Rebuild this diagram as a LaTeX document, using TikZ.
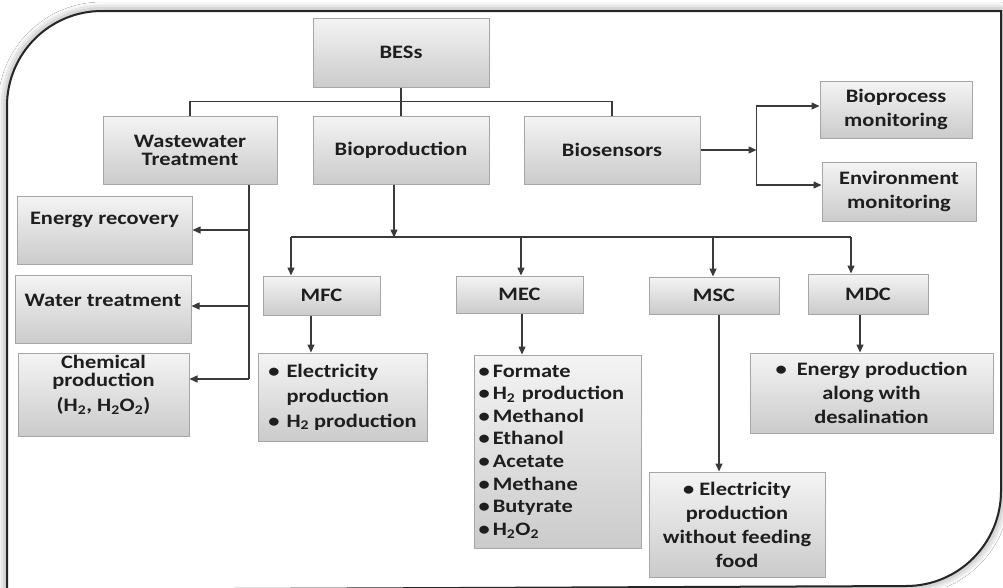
\documentclass[tikz,border=0pt]{standalone}
\usepackage{fontspec}
\setmainfont{Carlito}[FakeStretch=1.18]
\usetikzlibrary{arrows.meta,shadows,shadows.blur}

\definecolor{boxtop}{HTML}{F4F4F4}
\definecolor{boxbot}{HTML}{CBCBCB}
\definecolor{boxline}{HTML}{A6A6A6}
\definecolor{ink}{HTML}{1E1E1E}
\definecolor{wire}{HTML}{3A3A3A}

\tikzset{
  box/.style={draw=boxline, line width=1pt, top color=boxtop, bottom color=boxbot,
    drop shadow={shadow xshift=1.2pt, shadow yshift=-1.2pt, opacity=0.18},
    text=ink, align=center, inner sep=2pt},
  tight/.style={font=\bfseries\fontsize{19}{18}\selectfont},
  loose/.style={font=\bfseries\fontsize{19}{24.5}\selectfont},
  lbl/.style={text=ink, align=center, inner sep=0pt},
  wire/.style={draw=wire, line width=1.4pt},
  arr/.style={-{Triangle[length=8pt,width=7pt]}},
}

\begin{document}
\begin{tikzpicture}[x=1pt,y=-1pt]
\useasboundingbox (0,0) rectangle (1003,587);
\fill[white] (0,0) rectangle (1003,587);

% outer frame with two rounded corners
\draw[line width=2pt, draw=black!85, fill=white,
      blur shadow={shadow xshift=0pt, shadow yshift=0pt, shadow blur radius=9pt, shadow opacity=50}]
  (7,590) -- (7,106) arc[start angle=180, end angle=270, radius=95]
  -- (1001,11) -- (1001,491) arc[start angle=0, end angle=90, radius=95]
  -- cycle;

% top level
\node[box, tight, minimum width=176, minimum height=69] (bes) at (401,52.5) {BESs};
\node[box, tight, minimum width=174, minimum height=68] (ww) at (190,150) {Wastewater\\Treatment};
\node[box, tight, minimum width=176, minimum height=68] (bp) at (401,150) {Bioproduction};
\node[box, tight, minimum width=176, minimum height=68] (bs) at (612,150) {Biosensors};

% biosensor applications
\node[box, loose, minimum width=152, minimum height=57] (bpm) at (896,109.5) {Bioprocess\\monitoring};
\node[box, loose, minimum width=154, minimum height=59] (env) at (899,191.5) {Environment\\monitoring};

% wastewater treatment outputs
\node[box, minimum width=175, minimum height=68] (er) at (104.5,230) {};
\node[lbl, tight] (ertxt) at (104.5,220) {Energy recovery};
\node[box, minimum width=176, minimum height=68] (wt) at (103,309) {};
\node[lbl, tight] (wttxt) at (103,300) {Water treatment};
\node[box, minimum width=171, minimum height=83] (chem) at (103.5,394.5) {};
\node[lbl, tight] (chemtxt) at (103.5,384.5) {Chemical\\production\\[7pt](H\textsubscript{2}, H\textsubscript{2}O\textsubscript{2})};

% cell types
\node[box, tight, minimum width=117, minimum height=39] (mfc) at (321.5,295.5) {MFC};
\node[box, tight, minimum width=127, minimum height=37] (mec) at (519.5,294.5) {MEC};
\node[box, tight, minimum width=130, minimum height=37] (msc) at (714,295.5) {MSC};
\node[box, tight, minimum width=120, minimum height=40] (mdc) at (868,294) {MDC};

% products of each cell
\node[box, minimum width=169, minimum height=88,
      font=\bfseries\fontsize{19}{25}\selectfont] (mfcl) at (342.5,397)
  {\begin{tabular}{@{}l@{\hspace{7pt}}l@{}}
   \textbullet & Electricity\\
               & production\\
   \textbullet & H\textsubscript{2} production
   \end{tabular}};
\node[box, minimum width=167, minimum height=193, text width=158pt, align=left, inner xsep=3.5pt,
      font=\bfseries\fontsize{19}{22.6}\selectfont] (mecl) at (557.5,451.5)
  {\textbullet\,Formate\\
   \textbullet\,H\textsubscript{2} production\\
   \textbullet\,Methanol\\
   \textbullet\,Ethanol\\
   \textbullet\,Acetate\\
   \textbullet\,Methane\\
   \textbullet\,Butyrate\\
   \textbullet\,H\textsubscript{2}O\textsubscript{2}};
\node[box, minimum width=176, minimum height=105,
      font=\bfseries\fontsize{19}{24}\selectfont] (mscl) at (737,524.5)
  {\textbullet\ Electricity\\production\\without feeding\\food};
\node[box, minimum width=243, minimum height=80,
      font=\bfseries\fontsize{19}{24}\selectfont] (mdcl) at (871.5,393)
  {\textbullet\ \ Energy production\\along with\\desalination};

% BESs branches
\draw[wire] (bes.south) -- ++(0,14) coordinate (hub);
\draw[wire] (ww.north) |- (hub) -| (bs.north);
\draw[wire] (hub) -- (bp.north);

% biosensors fork
\draw[wire, arr] (bs.east) -- ++(56,0) coordinate (fork);
\draw[wire, arr] (fork) |- ([yshift=3.5pt]bpm.west);
\draw[wire, arr] (fork) |- ([yshift=6.5pt]env.west);

% wastewater trunk
\path ([xshift=59pt]ww.south) coordinate (trunk);
\path ([yshift=3pt]wt.east) coordinate (wtin);
\path ([yshift=15.5pt]chem.east) coordinate (chemin);
\draw[wire] (trunk) -- (trunk |- chemin);
\draw[wire, arr] (trunk |- er.east) -- (er.east);
\draw[wire, arr] (trunk |- wtin) -- (wtin);
\draw[wire, arr] (trunk |- chemin) -- (chemin);

% bioproduction bus
\draw[wire, arr] ([xshift=-7pt]bp.south) -- ++(0,53) coordinate (split);
\coordinate (b1) at (291,237);
\coordinate (b2) at (521,237);
\coordinate (b3) at (713,237);
\coordinate (b4) at (851,237);
\draw[wire] (b1) -- (b4);
\draw[wire, arr] (b1) -- (b1 |- mfc.north);
\draw[wire, arr] (b2) -- (b2 |- mec.north);
\draw[wire, arr] (b3) -- (b3 |- msc.north);
\draw[wire, arr] (b4) -- (b4 |- mdc.north);

% cell to product arrows
\path ([xshift=-10.5pt]mfc.south) coordinate (d1);
\path ([xshift=2.5pt]mec.south) coordinate (d2);
\path ([xshift=5pt]msc.south) coordinate (d3);
\path ([xshift=-8pt]mdc.south) coordinate (d4);
\draw[wire, arr] (d1) -- (d1 |- mfcl.north);
\draw[wire, arr] (d2) -- (d2 |- mecl.north);
\draw[wire, arr] (d3) -- (d3 |- mscl.north);
\draw[wire, arr] (d4) -- (d4 |- mdcl.north);
\end{tikzpicture}
\end{document}
